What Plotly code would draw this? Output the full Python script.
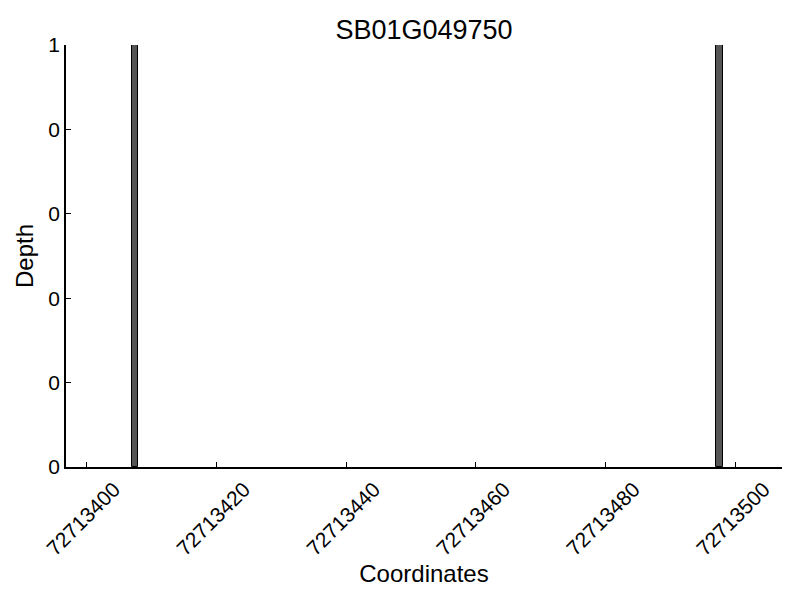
import plotly.graph_objects as go

positions = [72713407, 72713497]
depths = [1, 1]
x_tick_vals = [72713400, 72713420, 72713440, 72713460, 72713480, 72713500]
x_tick_text = ["72713400", "72713420", "72713440", "72713460", "72713480", "72713500"]
y_tick_vals = [0, 0.2, 0.4, 0.6, 0.8, 1.0]
y_tick_text = ["0", "0", "0", "0", "0", "1"]

fig = go.Figure()
fig.add_trace(go.Bar(
    x=positions, y=depths, width=1, offset=0,
    marker=dict(color="#555555", line=dict(color="black", width=1)),
))

font = "Liberation Sans, Arial, sans-serif"
# page body has an 8px margin, so the figure is 792x592 and shifted
fig.update_layout(
    template="none",
    width=792, height=592,
    paper_bgcolor="white", plot_bgcolor="white",
    margin=dict(l=58, r=18, t=37, b=133, pad=0),
    showlegend=False,
    font=dict(family=font, color="black", size=21),
    title=dict(text="SB01G049750", xref="paper", x=0.5, xanchor="center",
               yref="container", y=1 - 22 / 592, yanchor="middle",
               font=dict(size=27, family=font, color="black")),
    bargap=0,
)
fig.update_xaxes(
    automargin=False,
    range=[72713396.9, 72713507.1],
    tickvals=x_tick_vals, ticktext=x_tick_text, tickangle=-45,
    ticklabelshift=28,
    ticks="inside", ticklen=5, tickcolor="black", tickwidth=1,
    showline=True, linecolor="black", linewidth=1.5, mirror=False,
    showgrid=False, zeroline=False,
    tickfont=dict(size=21),
    title=dict(text="Coordinates", font=dict(size=24), standoff=1),
)
fig.update_yaxes(
    automargin=False,
    range=[0, 1],
    tickvals=y_tick_vals, ticktext=y_tick_text,
    ticks="inside", ticklen=5, tickcolor="black", tickwidth=1,
    showline=True, linecolor="black", linewidth=1.5, mirror=False,
    showgrid=False, zeroline=False,
    tickfont=dict(size=21),
    title=dict(text="Depth", font=dict(size=24), standoff=8),
)
fig.write_html("out.html")
